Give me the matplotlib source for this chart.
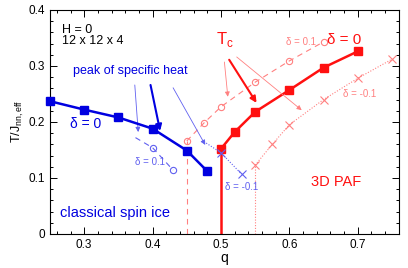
import matplotlib
matplotlib.use("Agg")
import matplotlib.pyplot as plt
from matplotlib.ticker import MultipleLocator

plt.rcParams['font.family'] = ['Liberation Sans', 'DejaVu Sans']

# Blue: peak of specific heat
blue_d0_q = [0.25, 0.30, 0.35, 0.40, 0.45, 0.48]
blue_d0_T = [0.237, 0.222, 0.208, 0.188, 0.149, 0.112]
blue_dp_q = [0.375, 0.40, 0.43]
blue_dp_T = [0.172, 0.154, 0.114]
blue_dp_mq = [0.40, 0.43]
blue_dp_mT = [0.154, 0.114]
blue_dm_q = [0.475, 0.50, 0.53]
blue_dm_T = [0.165, 0.145, 0.107]
blue_dm_mq = [0.50, 0.53]
blue_dm_mT = [0.145, 0.107]

# Red: Tc
red_d0_q = [0.50, 0.52, 0.55, 0.60, 0.65, 0.70]
red_d0_T = [0.152, 0.182, 0.218, 0.257, 0.297, 0.326]
red_dp_q = [0.45, 0.475, 0.50, 0.55, 0.60, 0.65]
red_dp_T = [0.166, 0.198, 0.227, 0.271, 0.309, 0.343]
red_dm_q = [0.55, 0.575, 0.60, 0.65, 0.70, 0.75]
red_dm_T = [0.123, 0.160, 0.195, 0.240, 0.278, 0.312]

BLUE = '#0000e0'
LBLUE = '#6060f0'
RED = '#ff1010'
LRED = '#ff8080'

fig = plt.figure(figsize=(4.08, 2.68), dpi=100)
ax = fig.add_axes([0.1225, 0.127, 0.855, 0.836])

# red phase boundaries (vertical)
ax.plot([red_d0_q[0], red_d0_q[0]], [0, red_d0_T[0]], color=RED, lw=1.8)
ax.plot([red_dp_q[0], red_dp_q[0]], [0, red_dp_T[0]], color=LRED, lw=0.8, ls=(0, (5, 4)))
ax.plot([red_dm_q[0], red_dm_q[0]], [0, red_dm_T[0]], color=LRED, lw=0.8, ls=(0, (1, 1.5)))

ax.plot(red_dp_q, red_dp_T, color=LRED, lw=0.8, ls=(0, (5, 4)), marker='o', ms=4.5,
        mfc='none', mec=LRED, mew=0.8)
ax.plot(red_dm_q, red_dm_T, color=LRED, lw=0.8, ls=(0, (1, 1.5)), marker='x', ms=5.5,
        mec=LRED, mew=0.8)
ax.plot(red_d0_q, red_d0_T, color=RED, lw=1.8, marker='s', ms=5.5)

ax.plot(blue_dp_q, blue_dp_T, color=LBLUE, lw=0.8, ls=(0, (5, 4)))
ax.plot(blue_dp_mq, blue_dp_mT, ls='none', marker='o', ms=4.5, mfc='none', mec=LBLUE, mew=0.8)
ax.plot(blue_dm_q, blue_dm_T, color=LBLUE, lw=0.8, ls=(0, (1, 1.5)))
ax.plot(blue_dm_mq, blue_dm_mT, ls='none', marker='x', ms=5.5, mec=LBLUE, mew=0.8)
ax.plot(blue_d0_q, blue_d0_T, color=BLUE, lw=1.8, marker='s', ms=5.5, clip_on=False, zorder=5)

# arrows
def arrow(x0, y0, x1, y1, color, lw):
    ax.annotate('', xy=(x1, y1), xytext=(x0, y0),
                arrowprops=dict(arrowstyle='-|>', color=color, lw=lw,
                                mutation_scale=7 if lw < 1 else 9, shrinkA=0, shrinkB=0))

arrow(0.374, 0.266, 0.379, 0.182, LBLUE, 0.6)
arrow(0.397, 0.266, 0.411, 0.184, BLUE, 1.5)
arrow(0.430, 0.261, 0.477, 0.159, LBLUE, 0.6)
arrow(0.505, 0.307, 0.510, 0.245, LRED, 0.6)
arrow(0.512, 0.311, 0.552, 0.234, RED, 1.5)
arrow(0.523, 0.316, 0.618, 0.221, LRED, 0.6)

# texts
ax.text(0.268, 0.365, 'H = 0', fontsize=9, color='black', va='center')
ax.text(0.268, 0.344, '12 x 12 x 4', fontsize=9, color='black', va='center')
ax.text(0.283, 0.291, 'peak of specific heat', fontsize=9, color=BLUE, va='center')
ax.text(0.279, 0.196, 'δ = 0', fontsize=10, color=BLUE, va='center')
ax.text(0.374, 0.128, 'δ = 0.1', fontsize=7, color=LBLUE, va='center')
ax.text(0.264, 0.037, 'classical spin ice', fontsize=10.5, color=BLUE, va='center')
ax.text(0.5055, 0.083, 'δ = -0.1', fontsize=7, color=LBLUE, va='center')
ax.text(0.631, 0.093, '3D PAF', fontsize=10.5, color=RED, va='center')
ax.text(0.493, 0.347, r'T$_\mathregular{c}$', fontsize=12, color=RED, va='center')
ax.text(0.595, 0.342, 'δ = 0.1', fontsize=7, color=LRED, va='center')
ax.text(0.655, 0.347, 'δ = 0', fontsize=11, color=RED, va='center')
ax.text(0.678, 0.249, 'δ = -0.1', fontsize=7, color=LRED, va='center')

ax.set_xlim(0.25, 0.76)
ax.set_ylim(0, 0.4)
ax.xaxis.set_minor_locator(MultipleLocator(0.02))
ax.yaxis.set_minor_locator(MultipleLocator(0.02))
ax.set_xticks([0.3, 0.4, 0.5, 0.6, 0.7])
ax.set_xticklabels(['0.3', '0.4', '0.5', '0.6', '0.7'])
ax.set_yticks([0, 0.1, 0.2, 0.3, 0.4])
ax.set_yticklabels(['0', '0.1', '0.2', '0.3', '0.4'])
ax.tick_params(which='both', direction='in', top=True, right=True, labelsize=8.5, width=0.7)
ax.tick_params(which='major', length=5)
ax.tick_params(which='minor', length=2.5)
for s in ax.spines.values():
    s.set_linewidth(0.8)
ax.set_xlabel('q', fontsize=10, labelpad=0)
ax.set_ylabel(r'T/J$_\mathregular{nn,eff}$', fontsize=9, labelpad=2)

fig.savefig('out.png', dpi=100)
